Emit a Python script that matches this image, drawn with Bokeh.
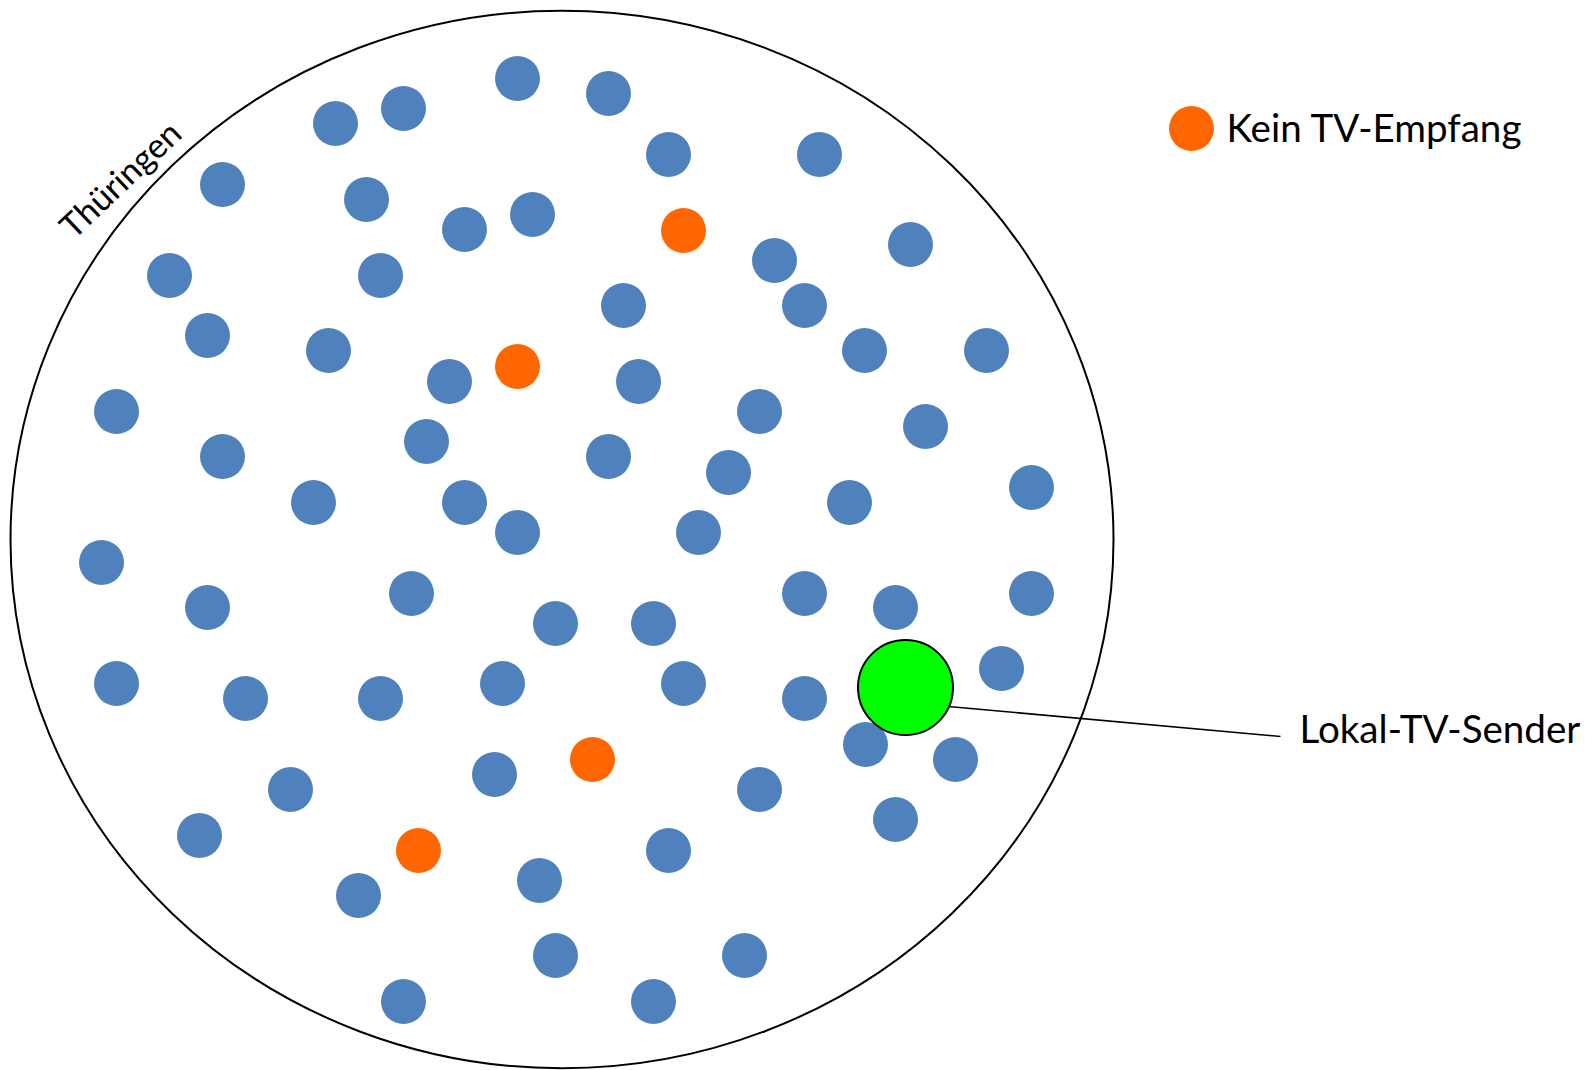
from bokeh.plotting import figure
from bokeh.models import Range1d
from bokeh.embed import file_html
from bokeh.resources import INLINE
from bokeh.core.properties import value

# --- data (page pixel coordinates, y measured downward) ---
blue_x = [335, 403, 517, 608, 668, 819, 222, 366, 464, 532, 774, 910, 169, 380, 623, 804,
          207, 328, 864, 986, 116, 449, 638, 759, 426, 222, 608, 925, 728, 313, 464, 517,
          698, 849, 1031, 101, 411, 207, 555, 653, 804, 895, 1031, 116, 245, 380, 502, 683,
          804, 1001, 865, 955, 290, 494, 759, 199, 895, 668, 539, 358, 555, 744, 403, 653]
blue_y = [123, 108, 78, 93, 154, 154, 184, 199, 229, 214, 260, 244, 275, 275, 305, 305,
          335, 350, 350, 350, 411, 381, 381, 411, 441, 456, 456, 426, 472, 502, 502, 532,
          532, 502, 487, 562, 593, 607, 623, 623, 593, 607, 593, 683, 698, 698, 683, 683,
          698, 668, 744, 759, 789, 774, 789, 835, 819, 850, 880, 895, 955, 955, 1001, 1001]

orange_x = [683, 517, 592, 418]
orange_y = [230, 366, 759, 850]

sender_x = [905]
sender_y = [687]

region_x = [561.5]
region_y = [539]
region_w = [1103]
region_h = [1058]

legend_dot_x = [1191]
legend_dot_y = [128]
legend_label = ["Kein TV-Empfang"]
legend_label_x = [1226]
legend_label_y = [126]

sender_label = ["Lokal-TV-Sender"]
sender_label_x = [1299]
sender_label_y = [727]
leader_x = [920, 1280]
leader_y = [703.5, 736]

region_label = ["Thüringen"]
region_label_x = [119]
region_label_y = [178]


def neg(v):
    return [-a for a in v]


W, H = 1592, 1070
p = figure(width=W, height=H, output_backend="svg", toolbar_location=None,
           x_range=Range1d(0, W), y_range=Range1d(-H, 0),
           min_border=0, background_fill_color="white", border_fill_color="white")
p.axis.visible = False
p.grid.visible = False
p.outline_line_color = None

FONT = value("Lato")
FS = "38.6px"

p.ellipse(x=region_x, y=neg(region_y), width=region_w, height=region_h,
          fill_color=None, line_color="black", line_width=2)

p.scatter(x=blue_x, y=neg(blue_y), size=45, marker="circle",
          fill_color="#4F81BD", line_color=None)
p.scatter(x=orange_x, y=neg(orange_y), size=45, marker="circle",
          fill_color="#FF6600", line_color=None)

p.line(x=leader_x, y=neg(leader_y), line_color="black", line_width=1.6)
p.scatter(x=sender_x, y=neg(sender_y), size=95, marker="circle",
          fill_color="#00FF00", line_color="black", line_width=2)

p.scatter(x=legend_dot_x, y=neg(legend_dot_y), size=45, marker="circle",
          fill_color="#FF6600", line_color=None)
p.text(x=legend_label_x, y=neg(legend_label_y), text=legend_label,
       text_font=FONT, text_font_size=FS, text_color="black",
       text_align="left", text_baseline="alphabetic")
p.text(x=sender_label_x, y=neg(sender_label_y), text=sender_label,
       text_font=FONT, text_font_size=FS, text_color="black",
       text_align="left", text_baseline="alphabetic")
p.text(x=region_label_x, y=neg(region_label_y), text=region_label,
       text_font=FONT, text_font_size="34px", text_color="black",
       text_align="center", text_baseline="middle", angle=0.76)

open("out.html", "w").write(file_html(p, INLINE))
